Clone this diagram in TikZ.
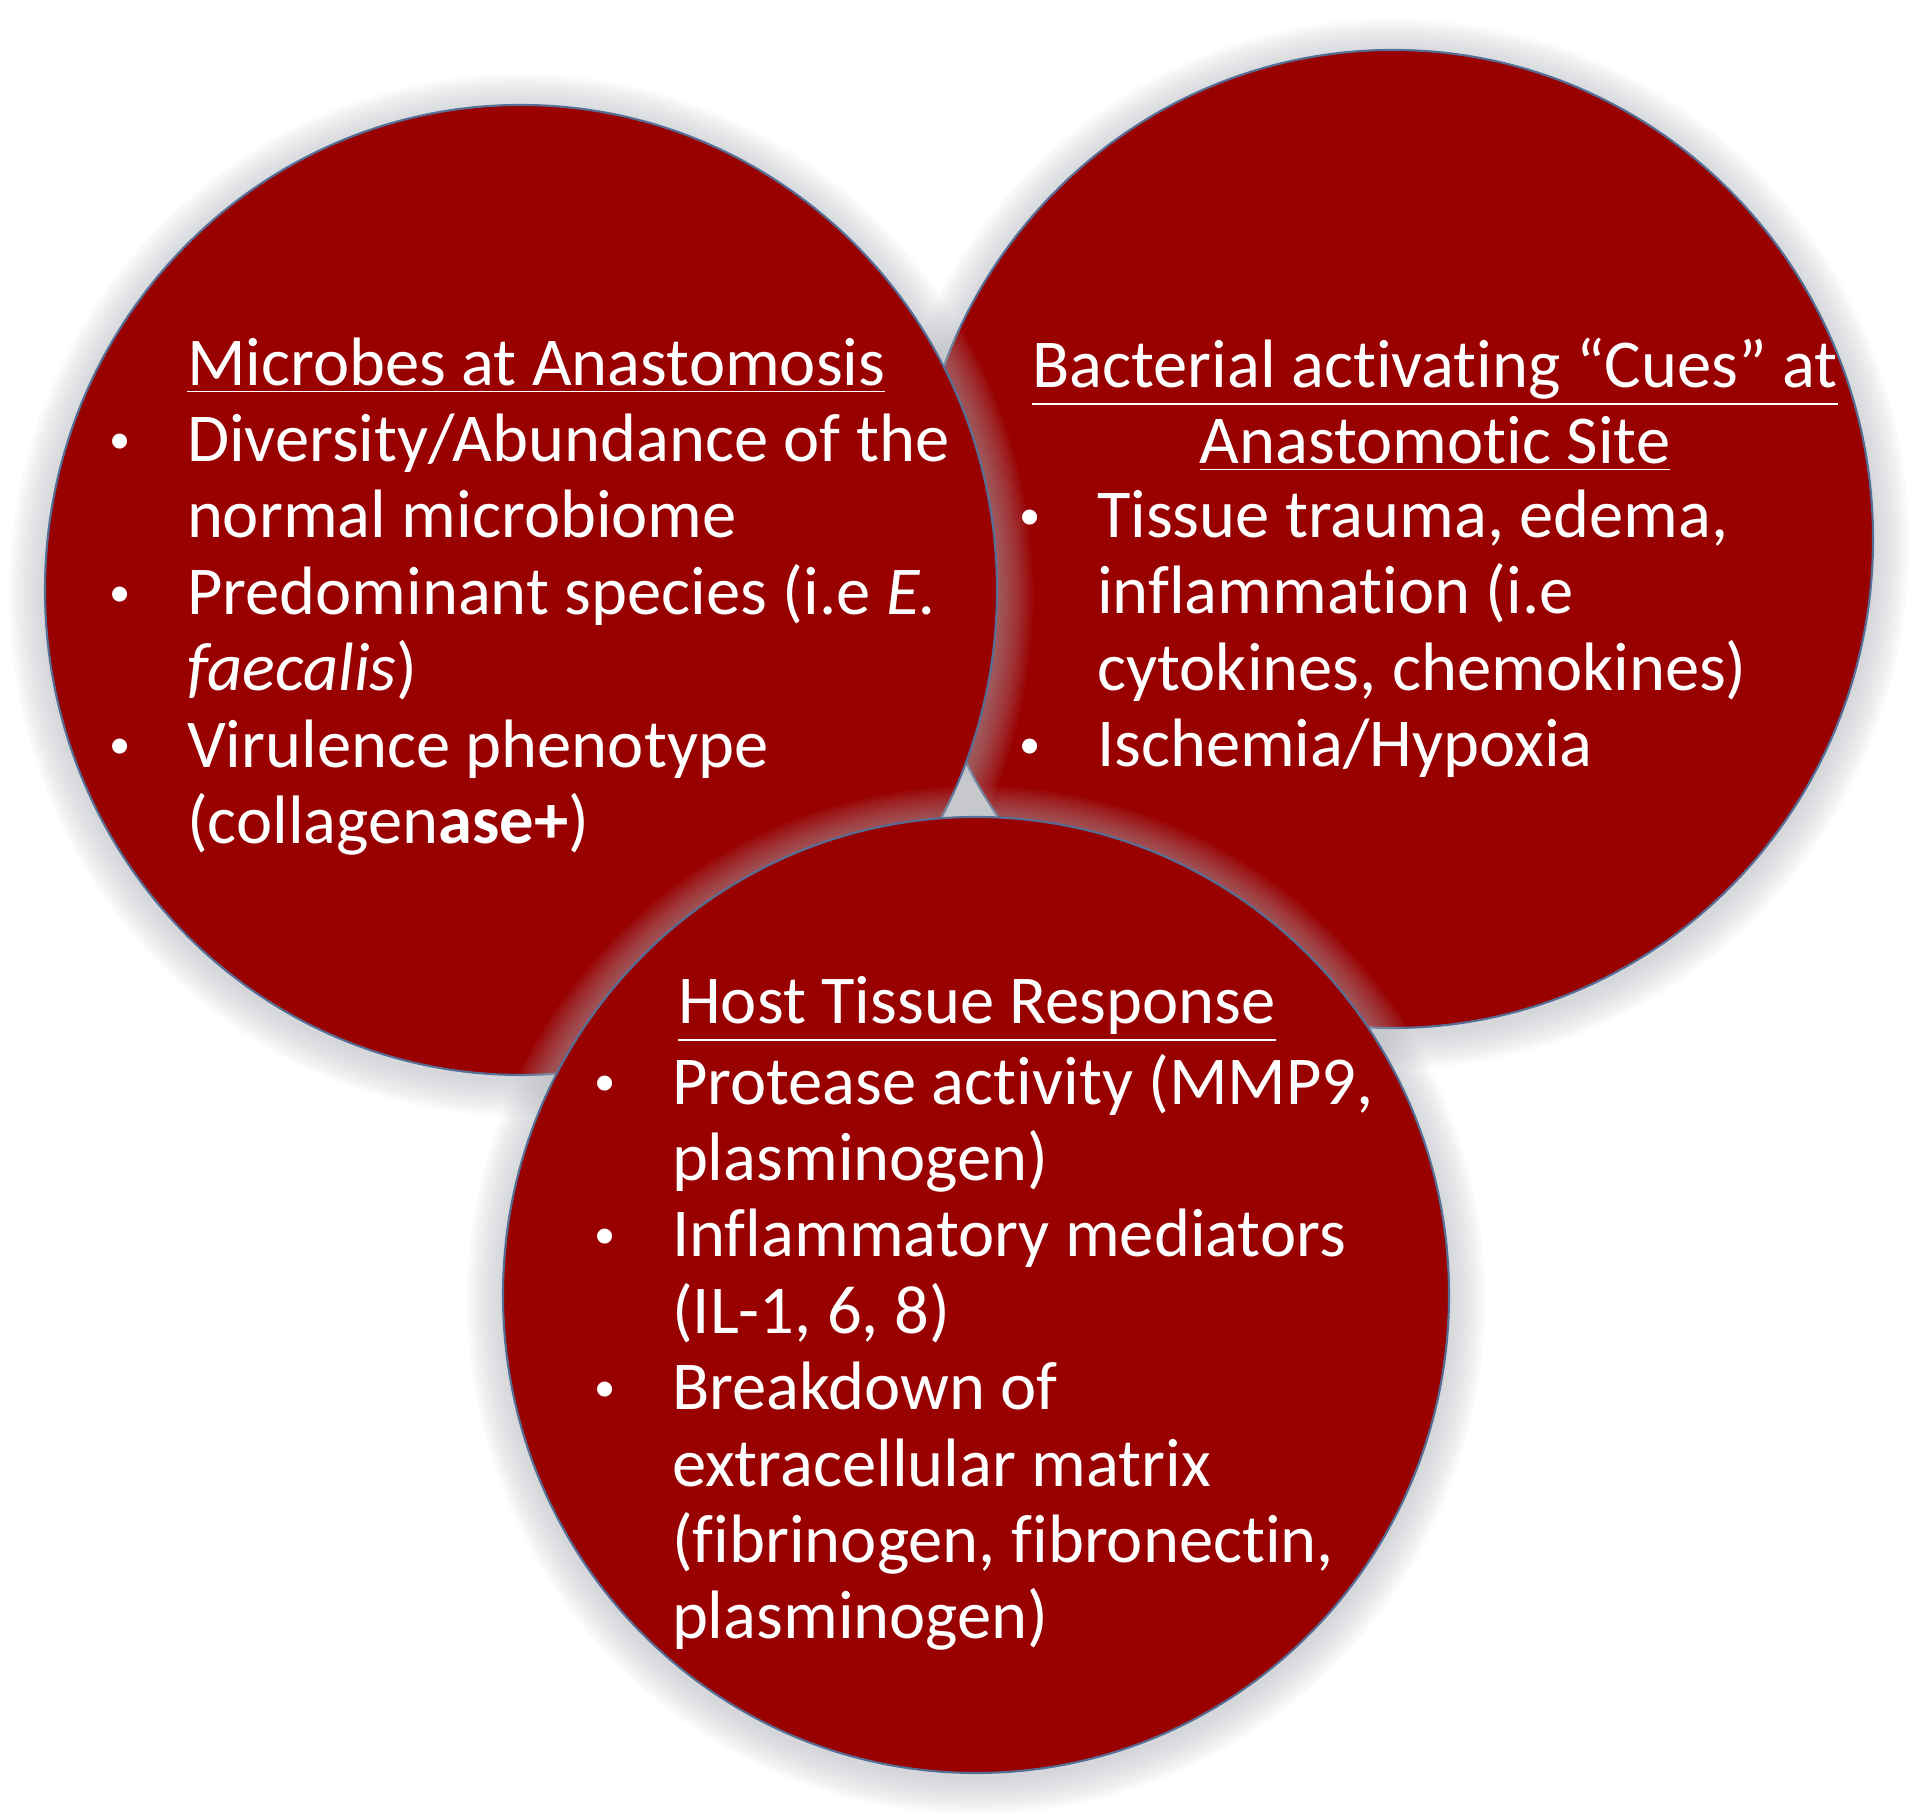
\documentclass[tikz,border=0pt]{standalone}
\usepackage{fontspec}
\setmainfont{Carlito}[Ligatures=NoCommon]
\usetikzlibrary{shapes.geometric}
\definecolor{blobred}{RGB}{153,0,0}
\definecolor{rimblue}{RGB}{85,110,150}
\definecolor{glowgray}{RGB}{175,178,184}
\newcommand{\itm}{\leavevmode\llap{\raisebox{0.12em}{\scalebox{0.62}{\textbullet}}\hspace{0.56cm}}}

\begin{document}
\begin{tikzpicture}
        \tikzstyle{every node}+=[inner sep=0pt, outer sep=0pt, text=white, font=\fontsize{19.5}{21.74}\selectfont]
        \tikzstyle{blob}=[ellipse, fill=blobred, draw=rimblue, line width=0.6pt]
        \tikzstyle{body}=[align=left, anchor=north west]
        \useasboundingbox (0,0) rectangle (19.2,18.17);
        \coordinate (cr) at (13.93,12.78);
        \coordinate (ml) at (5.21,12.27);
        \coordinate (hb) at (9.76,5.22);
        \foreach \k in {1,...,12}
          \fill [glowgray, opacity=0.06] ([yshift=-0.05cm]cr) ellipse ({4.80+0.03*\k} and {4.89+0.03*\k});
        \node [blob, minimum width=9.6cm, minimum height=9.78cm] (cues) at (cr) {};
        \foreach \k in {1,...,12}
          \fill [glowgray, opacity=0.06] ([yshift=-0.05cm]ml) ellipse ({4.76+0.03*\k} and {4.85+0.03*\k});
        \node [blob, minimum width=9.52cm, minimum height=9.7cm] (microbes) at (ml) {};
        \foreach \k in {1,...,12}
          \fill [glowgray, opacity=0.06] ([yshift=-0.05cm]hb) ellipse ({4.73+0.03*\k} and {4.78+0.03*\k});
        \node [blob, minimum width=9.46cm, minimum height=9.56cm] (host) at (hb) {};
        \node [anchor=base west] (microbestitle) at (1.87,14.31) {\underline{Microbes at Anastomosis}};
        \node [body] (microbeslist) at (1.87,14.03) {\itm Diversity/Abundance of the\\normal microbiome\\\itm Predominant species (i.e \textit{E.}\\\textit{faecalis})\\\itm Virulence phenotype\\(collagen\textbf{ase+})};
        \node [align=center, anchor=north] (cuestitle) at (14.35,14.79) {\underline{Bacterial activating “Cues” at}\\\underline{Anastomotic Site}};
        \node [body] (cueslist) at (10.97,13.27) {\itm Tissue trauma, edema,\\inflammation (i.e\\cytokines, chemokines)\\\itm Ischemia/Hypoxia};
        \node [anchor=base] (hosttitle) at (9.77,7.93) {\underline{Host Tissue Response}};
        \node [body] (hostlist) at (6.72,7.63) {\itm Protease activity (MMP9,\\plasminogen)\\\itm Inflammatory mediators\\(IL-1, 6, 8)\\\itm Breakdown of\\extracellular matrix\\(fibrinogen, fibronectin,\\plasminogen)};
      \end{tikzpicture}
\end{document}
